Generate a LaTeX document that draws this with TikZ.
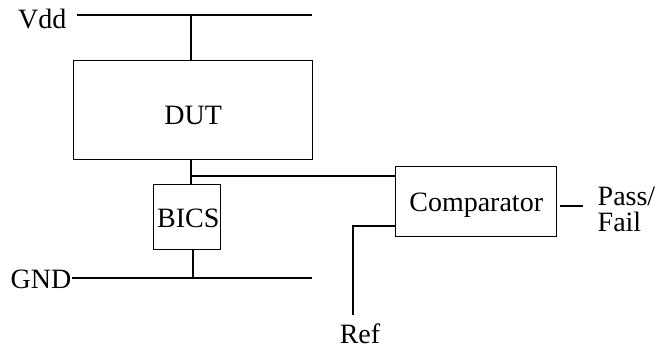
\documentclass[tikz,border=0pt]{standalone}
\usepackage{fontspec}
\setmainfont{Liberation Serif}
\begin{document}
\begin{tikzpicture}[x=1pt,y=-1pt,line width=1.4pt,
  blk/.style={draw,line width=1.4pt,inner sep=0pt,anchor=north west},
  lbl/.style={font=\fontsize{28}{30}\selectfont,inner sep=0pt}]
\useasboundingbox (0,0) rectangle (656,350);
% rails
\coordinate (vddL) at (77,15); \coordinate (vddR) at (312,15);
\coordinate (gndL) at (72,278); \coordinate (gndR) at (312,278);
\draw (vddL) -- (vddR);
\draw (gndL) -- (gndR);
\node[lbl,anchor=east] (vdd) at (67,19) {Vdd};
\node[lbl,anchor=east] (gnd) at (72,279) {GND};
% blocks
\node[blk,minimum width=239pt,minimum height=99pt] (dut) at (73,60) {};
\node[lbl] at ([yshift=-5pt]dut.center) {DUT};
\node[blk,minimum width=67pt,minimum height=65pt] (bics) at (153,184) {};
\node[lbl] at ([xshift=1pt,yshift=-1pt]bics.center) {BICS};
\node[blk,minimum width=161pt,minimum height=70pt] (cmp) at (395,166) {};
\node[lbl] at ([yshift=-4pt]cmp.center) {Comparator};
% connections
\coordinate (vtap) at (191,15);
\draw (vtap) -- (vtap |- dut.north);
\coordinate (mid) at (191,176);
\draw (dut.south -| mid) -- (bics.north -| mid);
\draw (mid) -- (mid -| cmp.west);
\coordinate (gtap) at (193,278);
\draw (bics.south -| gtap) -- (gtap);
% ref
\coordinate (refc) at (353,226);
\coordinate (refb) at (353,315);
\draw (refb) -- (refc) -- (refc -| cmp.west);
\node[lbl] (ref) at (360,334) {Ref};
% pass/fail
\coordinate (pfa) at (560,206); \coordinate (pfb) at (583,206);
\draw (pfa) -- (pfb);
\node[lbl,anchor=west,align=left,font=\fontsize{28}{26}\selectfont] (pf) at (597,209) {Pass/\\Fail};
\end{tikzpicture}
\end{document}
